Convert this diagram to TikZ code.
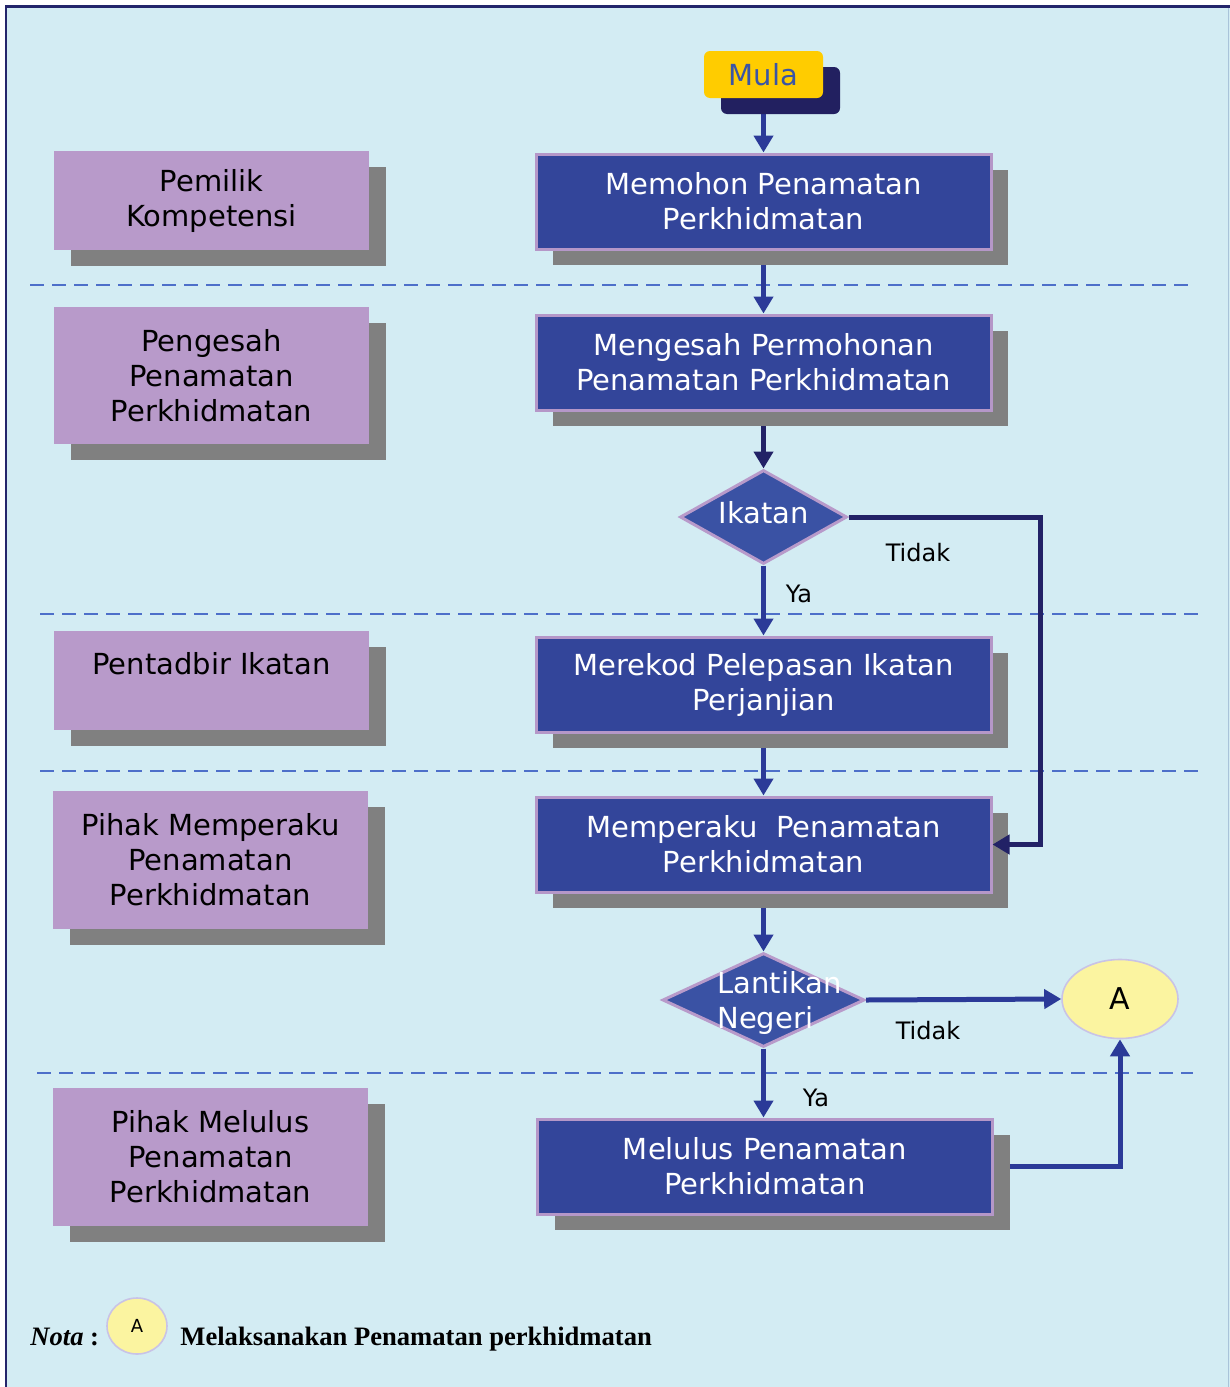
\documentclass[tikz,border=0pt]{standalone}
\usepackage{fontspec}
\setmainfont{DejaVu Sans}
\newfontfamily\notefont{Liberation Serif}
\usetikzlibrary{arrows.meta,shapes.geometric,shadows}

\definecolor{pagebg}{HTML}{D3ECF3}
\definecolor{framenavy}{HTML}{23256B}
\definecolor{frameside}{HTML}{A9C3D9}
\definecolor{boxblue}{HTML}{33459A}
\definecolor{boxedge}{HTML}{B597C8}
\definecolor{rolefill}{HTML}{B89ACA}
\definecolor{shadowgray}{HTML}{808080}
\definecolor{diamondblue}{HTML}{3A52A4}
\definecolor{flowblue}{HTML}{2B3A98}
\definecolor{flownavy}{HTML}{222266}
\definecolor{lanecolor}{HTML}{4D6FC9}
\definecolor{startyellow}{HTML}{FFCC00}
\definecolor{startshadow}{HTML}{222060}
\definecolor{starttext}{HTML}{3A55A6}
\definecolor{connyellow}{HTML}{FBF4A0}
\definecolor{connedge}{HTML}{C9C3E6}

\pgfdeclarelayer{bg}
\pgfdeclarelayer{edges}
\pgfsetlayers{bg,edges,main}

\tikzset{
  boxfont/.style={font=\fontsize{14.5}{17.5}\selectfont},
  shade8/.style={drop shadow={shadow xshift=8.5pt,shadow yshift=-8pt,fill=#1,opacity=1}},
  stepbox/.style={rectangle, draw=boxedge, line width=1.5pt, fill=boxblue,
    text=white, minimum width=227.5pt, minimum height=47.5pt, inner sep=0pt,
    align=center, boxfont, shade8=shadowgray},
  rolebox/.style={rectangle, fill=rolefill, text=black, minimum width=157.5pt,
    inner sep=0pt, align=center, boxfont, shade8=shadowgray},
  decision/.style={diamond, draw=rolefill, line width=1.5pt, fill=diamondblue,
    inner sep=0pt, minimum height=47pt},
  dtext/.style={text=white, boxfont, inner sep=0pt},
  startbox/.style={rectangle, rounded corners=3pt, fill=startyellow,
    text=starttext, minimum width=59.5pt, minimum height=23.5pt, inner sep=0pt,
    boxfont, shade8=startshadow},
  connector/.style={ellipse, draw=connedge, line width=0.8pt, fill=connyellow,
    inner sep=0pt},
  flow/.style={draw=flowblue, line width=2.5pt,
    -{Triangle[width=9.5pt,length=8.5pt]}},
  flowdark/.style={flow, draw=flownavy},
  branch/.style={text=black, font=\fontsize{12}{14}\selectfont, inner sep=0pt},
  lane/.style={draw=lanecolor, line width=1pt, dash pattern=on 7pt off 4pt}
}

\begin{document}
\begin{tikzpicture}[x=0.5pt,y=-0.5pt]
\useasboundingbox (0,0) rectangle (1230,1387);

% page and frame
\begin{pgfonlayer}{bg}
  \fill[white] (0,0) rectangle (1230,1387);
  \fill[pagebg] (6,6) rectangle (1230,1387);
  \draw[frameside, line width=0.8pt] (1228.5,6) -- (1228.5,1387);
  \draw[framenavy, line width=1.2pt] (6,1387) -- (6,6.5) -- (1230,6.5);
  % lane separators
  \draw[lane] (30,285) -- (1190,285);
  \draw[lane] (40,614) -- (1198,614);
  \draw[lane] (40,771) -- (1198,771);
  \draw[lane] (37,1073) -- (1193,1073);
\end{pgfonlayer}

% roles
\node[rolebox, minimum height=49.5pt] (r1) at (211.5,200.5) {Pemilik\\Kompetensi};
\node[rolebox, minimum height=68.5pt] (r2) at (211.5,375.5) {Pengesah\\Penamatan\\Perkhidmatan};
\node[rolebox, minimum height=49.5pt] (r3) at (211.5,680.5) {Pentadbir Ikatan\\\mbox{}};
\node[rolebox, minimum height=69pt] (r4) at (210.5,860) {Pihak Memperaku\\Penamatan\\Perkhidmatan};
\node[rolebox, minimum height=69pt] (r5) at (210.5,1157) {Pihak Melulus\\Penamatan\\Perkhidmatan};

% start
\node[startbox] (mula) at (763.5,74.5) {Mula};

% process steps
\node[stepbox] (s1) at (763.5,201.5) {Memohon Penamatan\\Perkhidmatan};
\node[stepbox] (s2) at (763.5,362.5) {Mengesah Permohonan\\Penamatan Perkhidmatan};
\node[stepbox] (s3) at (763.5,684.5) {Merekod Pelepasan Ikatan\\Perjanjian};
\node[stepbox] (s4) at (763.5,844.5) {Memperaku~ Penamatan\\Perkhidmatan};
\node[stepbox] (s5) at (765,1166.5) {Melulus Penamatan\\Perkhidmatan};

% decisions
\node[decision, minimum width=83.5pt] (ikatan) at (763.5,517) {};
\node[dtext] (ikatanlbl) at (764,513) {Ikatan};
\node[decision, minimum width=101pt] (lantik) at (763.5,1000) {};
\node[dtext, align=left, anchor=west] (lantiklbl) at (717,1003) {Lantikan\\Negeri};

% off-page connector
\node[connector, minimum width=58pt, minimum height=39.5pt,
      font=\fontsize{15}{18}\selectfont] (A) at (1120,999) {A};

% flow lines
\begin{pgfonlayer}{edges}
  \draw[flow] (mula.south) -- (s1.north);
  \draw[flow] (s1.south) -- (s2.north);
  \draw[flowdark] (s2.south) -- (ikatan.north);
  \draw[flow] (ikatan.south) -- (s3.north);
  \draw[flow] (s3.south) -- (s4.north);
  \draw[flow] (s4.south) -- (lantik.north);
  \draw[flow] (lantik.south) -- (lantik.south |- s5.north);
  \draw[flow] (s5.east) -| (A.south);
\end{pgfonlayer}
\coordinate (bypass) at (1040,680);
\draw[flowdark] (ikatan.east) -| (bypass) |- (s4.east);
\draw[flow] (lantik.east) -- (A.west);

% branch labels
\node[branch] (tidak1) at (918,553) {Tidak};
\node[branch] (ya1) at (799,594) {Ya};
\node[branch] (tidak2) at (928,1031) {Tidak};
\node[branch] (ya2) at (816,1098) {Ya};

% note
\node[anchor=base west, inner sep=0pt, font=\notefont\fontsize{13.3}{16}\selectfont]
  (notaword) at (30,1345) {\textbf{\textit{Nota}} \textbf{:}};
\node[connector, minimum width=30pt, minimum height=28pt,
      font=\fontsize{9}{10}\selectfont] (Anote) at (137,1326) {A};
\node[anchor=base west, inner sep=0pt, font=\notefont\fontsize{13.3}{16}\selectfont]
  (notatext) at (180,1345) {\textbf{Melaksanakan Penamatan perkhidmatan}};
\end{tikzpicture}
\end{document}
